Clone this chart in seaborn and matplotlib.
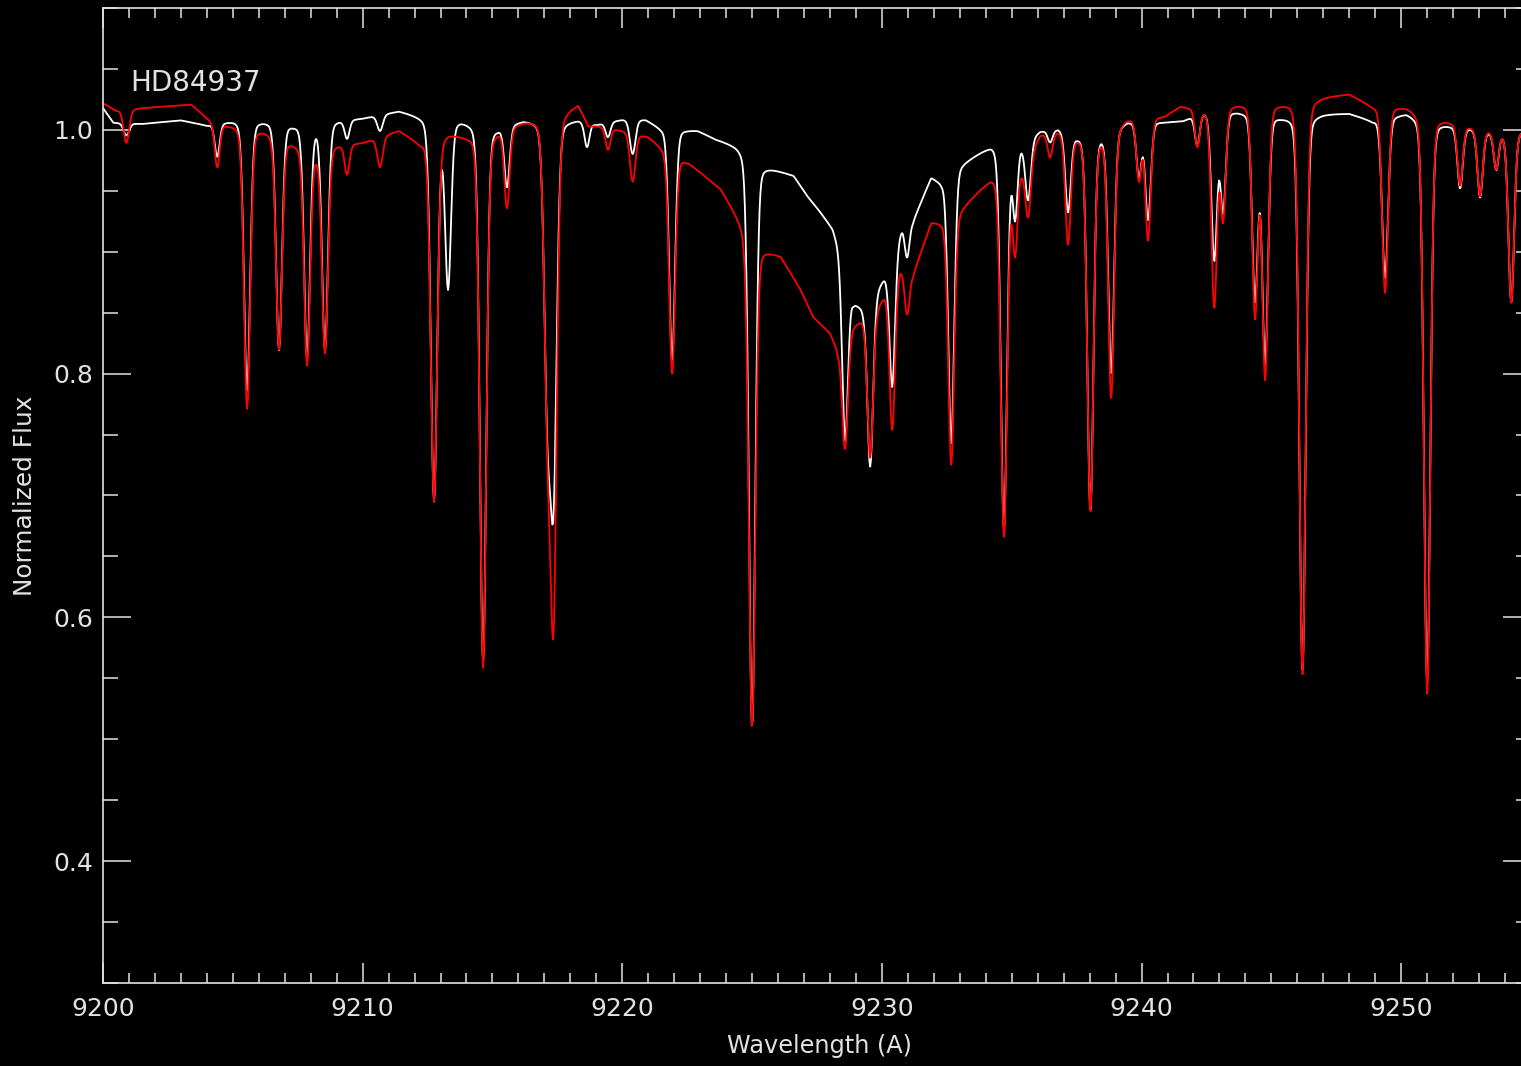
import numpy as np
import pandas as pd
import matplotlib
matplotlib.use("Agg")
import matplotlib.pyplot as plt
import seaborn as sns
from matplotlib.ticker import MultipleLocator, FormatStrFormatter

# ---------------------------------------------------------------------------
# HD84937, 9200-9255 A: observed spectrum (white) against synthetic model (red)
# ---------------------------------------------------------------------------

# Pseudo-continuum envelope of the observed spectrum (wavelength A, flux)
obs_cont_wave = [9200.0, 9200.4, 9201.5, 9203.0, 9204.0, 9205.0, 9206.2, 9207.3,
                 9208.2, 9208.9, 9210.0, 9211.4, 9212.2, 9213.0, 9213.8, 9215.2,
                 9216.2, 9217.2, 9218.3, 9219.0, 9220.0, 9220.9, 9221.5, 9222.9,
                 9223.6, 9224.4, 9225.0, 9225.4, 9226.6, 9227.1, 9227.6, 9228.1,
                 9228.5, 9228.9, 9229.3, 9229.8, 9230.2, 9230.8, 9231.2, 9231.9,
                 9232.3, 9233.0, 9234.2, 9235.4, 9236.1, 9236.8, 9237.5, 9238.5,
                 9239.45, 9240.9, 9241.6, 9242.4, 9243.7, 9245.4, 9247.0, 9248.0,
                 9248.9, 9250.2, 9252.0, 9252.7, 9253.4, 9253.9, 9255.0]
obs_cont_flux = [1.018, 1.006, 1.005, 1.008, 1.004, 1.008, 1.008, 1.005,
                 1.004, 1.008, 1.010, 1.016, 1.012, 1.008, 1.009, 1.003,
                 1.009, 1.008, 1.009, 1.005, 1.009, 1.009, 1.002, 1.000,
                 0.993, 0.988, 0.980, 0.972, 0.963, 0.947, 0.934, 0.920,
                 0.895, 0.860, 0.855, 0.870, 0.885, 0.923, 0.926, 0.962,
                 0.958, 0.972, 0.988, 0.990, 1.000, 1.002, 0.996, 0.998,
                 1.008, 1.007, 1.008, 1.016, 1.016, 1.012, 1.014, 1.014,
                 1.008, 1.015, 1.004, 1.002, 0.999, 0.998, 1.000]

# Pseudo-continuum envelope of the model spectrum
mod_cont_wave = [9200.0, 9200.5, 9201.5, 9203.4, 9203.9, 9204.3, 9205.0, 9206.2,
                 9207.3, 9208.2, 9208.9, 9210.0, 9211.4, 9212.2, 9213.3, 9214.0,
                 9215.2, 9216.2, 9217.2, 9218.3, 9218.7, 9219.0, 9220.0, 9221.0,
                 9221.6, 9222.0, 9222.6, 9223.8, 9224.35, 9224.7, 9225.0, 9225.4,
                 9226.1, 9226.85, 9227.35, 9228.0, 9228.3, 9228.6, 9228.9, 9229.2,
                 9229.8, 9230.2, 9230.7, 9231.2, 9231.9, 9232.3, 9233.0, 9234.2,
                 9235.4, 9236.1, 9236.8, 9237.5, 9238.5, 9239.45, 9240.9, 9241.5,
                 9242.4, 9243.7, 9245.4, 9247.0, 9248.0, 9248.9, 9250.2, 9252.0,
                 9252.7, 9253.4, 9253.9, 9255.0]
mod_cont_flux = [1.022, 1.016, 1.018, 1.021, 1.012, 1.005, 1.004, 1.000,
                 0.990, 0.982, 0.988, 0.990, 1.000, 0.990, 0.998, 0.996,
                 1.000, 1.008, 1.012, 1.022, 1.004, 1.004, 1.000, 0.995,
                 0.985, 0.980, 0.973, 0.952, 0.933, 0.920, 0.910, 0.903,
                 0.897, 0.870, 0.847, 0.834, 0.820, 0.830, 0.840, 0.845,
                 0.855, 0.870, 0.888, 0.882, 0.925, 0.925, 0.935, 0.961,
                 0.970, 0.997, 1.000, 0.995, 0.996, 1.010, 1.012, 1.020,
                 1.017, 1.022, 1.023, 1.028, 1.030, 1.020, 1.020, 1.007,
                 1.003, 1.000, 0.998, 1.000]

# Absorption line list: centre (A), relative depth in each spectrum, FWHM (A)
line_center = [9200.90, 9204.40, 9205.55, 9206.78, 9207.86, 9208.55, 9209.40,
               9210.67, 9212.75, 9213.29, 9214.64, 9215.56, 9217.12, 9217.35,
               9218.64, 9219.45, 9220.40, 9221.92, 9225.00, 9228.58, 9229.55,
               9230.40, 9230.97, 9232.67, 9234.70, 9235.13, 9235.63, 9236.48,
               9237.17, 9238.03, 9238.83, 9239.90, 9240.25, 9242.15, 9242.80,
               9243.14, 9244.37, 9244.76, 9246.20, 9249.38, 9251.00, 9252.27,
               9253.04, 9253.66, 9254.24]
line_depth_obs = [0.010, 0.027, 0.220, 0.185, 0.190, 0.185, 0.015,
                  0.013, 0.310, 0.135, 0.440, 0.050, 0.220, 0.290,
                  0.020, 0.012, 0.028, 0.190, 0.480, 0.160, 0.160,
                  0.120, 0.030, 0.230, 0.320, 0.060, 0.050, 0.010,
                  0.065, 0.310, 0.200, 0.045, 0.080, 0.025, 0.120,
                  0.080, 0.150, 0.200, 0.450, 0.130, 0.460, 0.050,
                  0.055, 0.030, 0.140]
line_depth_mod = [0.027, 0.035, 0.230, 0.175, 0.180, 0.170, 0.025,
                  0.025, 0.300, 0.000, 0.440, 0.065, 0.220, 0.395,
                  0.000, 0.018, 0.040, 0.185, 0.440, 0.110, 0.140,
                  0.140, 0.040, 0.220, 0.310, 0.070, 0.050, 0.020,
                  0.090, 0.310, 0.220, 0.050, 0.100, 0.030, 0.160,
                  0.090, 0.170, 0.220, 0.460, 0.150, 0.470, 0.050,
                  0.055, 0.030, 0.140]
line_fwhm = [0.25, 0.22, 0.28, 0.27, 0.27, 0.27, 0.22,
             0.25, 0.29, 0.27, 0.29, 0.24, 0.30, 0.30,
             0.22, 0.22, 0.25, 0.27, 0.29, 0.26, 0.26,
             0.25, 0.22, 0.27, 0.28, 0.22, 0.25, 0.22,
             0.25, 0.28, 0.27, 0.23, 0.25, 0.22, 0.26,
             0.24, 0.26, 0.27, 0.29, 0.27, 0.29, 0.24,
             0.24, 0.22, 0.26]

# Axis ranges and tick labels
x_range = (9200.0, 9255.0)
y_range = (0.3, 1.1)
x_major_ticks = [9200, 9210, 9220, 9230, 9240, 9250]
y_major_ticks = [0.4, 0.6, 0.8, 1.0]
star_name = "HD84937"


def build_spectrum(wave, cont_w, cont_f, depths):
    """Continuum envelope times pseudo-Voigt absorption lines."""
    flux = np.interp(wave, cont_w, cont_f)
    eta = 0.15
    for c, d, fw in zip(line_center, depths, line_fwhm):
        if d <= 0:
            continue
        u = (wave - c) / fw
        gauss = np.exp(-4.0 * np.log(2.0) * u ** 2)
        lorentz = 1.0 / (1.0 + 4.0 * u ** 2)
        flux = flux * (1.0 - d * ((1 - eta) * gauss + eta * lorentz))
    return flux


wave = np.arange(x_range[0], x_range[1] + 1e-6, 0.03)
obs = pd.DataFrame({"wave": wave,
                    "flux": build_spectrum(wave, obs_cont_wave, obs_cont_flux, line_depth_obs)})
mod = pd.DataFrame({"wave": wave,
                    "flux": build_spectrum(wave, mod_cont_wave, mod_cont_flux, line_depth_mod)})

fg = "#e2e2e2"
sns.set_theme(style="ticks", rc={
    "figure.facecolor": "black",
    "axes.facecolor": "black",
    "axes.edgecolor": fg,
    "text.color": fg,
    "axes.labelcolor": fg,
    "xtick.color": fg,
    "ytick.color": fg,
})
plt.rcParams["font.family"] = ["DejaVu Sans"]

W, H = 1521, 1066
fig = plt.figure(figsize=(W / 100, H / 100), dpi=100, facecolor="black")
ax = fig.add_axes([103 / W, 1 - 983 / H, 1428 / W, 975 / H])
ax.set_facecolor("black")

sns.lineplot(data=obs, x="wave", y="flux", color="white", linewidth=1.3,
             estimator=None, sort=False, ax=ax)
sns.lineplot(data=mod, x="wave", y="flux", color="#ff0000", linewidth=1.3,
             estimator=None, sort=False, ax=ax)

ax.set_xlim(*x_range)
ax.set_ylim(*y_range)
ax.set_xticks(x_major_ticks)
ax.set_yticks(y_major_ticks)
ax.xaxis.set_minor_locator(MultipleLocator(1))
ax.yaxis.set_minor_locator(MultipleLocator(0.05))
ax.yaxis.set_major_formatter(FormatStrFormatter("%.1f"))

for side in ["left", "right", "top", "bottom"]:
    ax.spines[side].set_color(fg)
    ax.spines[side].set_linewidth(1.2)

ax.tick_params(which="both", direction="in", top=True, right=True,
               colors=fg, width=1.1, labelsize=18)
ax.tick_params(axis="x", which="major", length=14.5, pad=10)
ax.tick_params(axis="x", which="minor", length=7.5)
ax.tick_params(axis="y", which="major", length=20, pad=7)
ax.tick_params(axis="y", which="minor", length=10.8)

ax.set_xlabel("Wavelength (A)", fontsize=17.3)
ax.set_ylabel("Normalized Flux", fontsize=17.8)
ax.xaxis.set_label_coords(0.5015, -0.052)
ax.yaxis.set_label_coords(-0.046, 0.5)

ax.text(9201.05, 1.0386, star_name, fontsize=20, color=fg,
        ha="left", va="center")

fig.savefig("out.png", dpi=100, facecolor="black")
